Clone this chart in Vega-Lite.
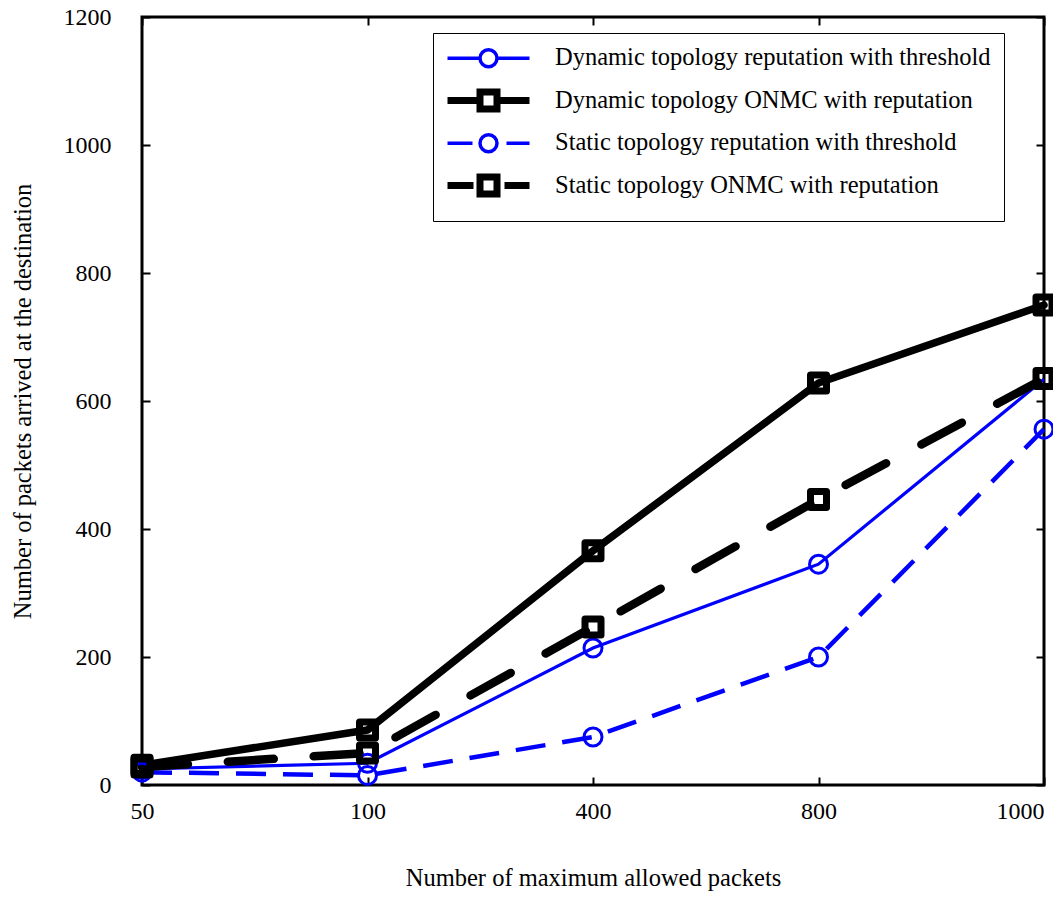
{
  "$schema": "https://vega.github.io/schema/vega-lite/v6.json",
  "width": 902,
  "height": 768,
  "autosize": {"type": "none"},
  "padding": {"left": 142, "top": 17, "right": 9, "bottom": 112},
  "background": "white",
  "config": {
    "view": {"stroke": "black", "strokeWidth": 3},
    "font": "Liberation Serif",
    "axis": {
      "labelFont": "Liberation Serif", "titleFont": "Liberation Serif",
      "labelFontSize": 24, "titleFontSize": 24.5,
      "labelColor": "black", "titleColor": "black", "titleFontWeight": "normal",
      "tickColor": "black", "tickWidth": 2, "tickSize": -8,
      "domain": false, "grid": false
    }
  },
  "data": {"values": [
    {"p": 50, "s": "Dynamic topology reputation with threshold", "v": 25},
    {"p": 100, "s": "Dynamic topology reputation with threshold", "v": 34},
    {"p": 400, "s": "Dynamic topology reputation with threshold", "v": 214},
    {"p": 800, "s": "Dynamic topology reputation with threshold", "v": 345},
    {"p": 1000, "s": "Dynamic topology reputation with threshold", "v": 634},
    {"p": 50, "s": "Dynamic topology ONMC with reputation", "v": 31},
    {"p": 100, "s": "Dynamic topology ONMC with reputation", "v": 86},
    {"p": 400, "s": "Dynamic topology ONMC with reputation", "v": 366},
    {"p": 800, "s": "Dynamic topology ONMC with reputation", "v": 628},
    {"p": 1000, "s": "Dynamic topology ONMC with reputation", "v": 750},
    {"p": 50, "s": "Static topology reputation with threshold", "v": 20},
    {"p": 100, "s": "Static topology reputation with threshold", "v": 15},
    {"p": 400, "s": "Static topology reputation with threshold", "v": 75},
    {"p": 800, "s": "Static topology reputation with threshold", "v": 200},
    {"p": 1000, "s": "Static topology reputation with threshold", "v": 556},
    {"p": 50, "s": "Static topology ONMC with reputation", "v": 28},
    {"p": 100, "s": "Static topology ONMC with reputation", "v": 50},
    {"p": 400, "s": "Static topology ONMC with reputation", "v": 247},
    {"p": 800, "s": "Static topology ONMC with reputation", "v": 446},
    {"p": 1000, "s": "Static topology ONMC with reputation", "v": 635}
  ]},
  "resolve": {"axis": {"x": "independent", "y": "independent"}},
  "layer": [
    {
      "transform": [{"filter": "datum.s == 'Static topology reputation with threshold'"}],
      "mark": {"type": "line", "color": "#0000ff", "strokeWidth": 4.5, "strokeDash": [30, 17]},
      "encoding": {
        "x": {"field": "p", "type": "ordinal", "scale": {"type": "point", "padding": 0},
              "axis": {"orient": "bottom", "title": "Number of maximum allowed packets", "labelAngle": 0, "labelPadding": 22, "titlePadding": 43,
                       "labelAlign": {"expr": "datum.value == 1000 ? 'right' : 'center'"}}},
        "y": {"field": "v", "type": "quantitative", "scale": {"domain": [0, 1200]},
              "axis": {"orient": "left", "title": "Number of packets arrived at the destination", "values": [0, 200, 400, 600, 800, 1000, 1200], "format": "d", "labelPadding": 39, "titlePadding": 28, "labelFlush": false}}
      }
    },
    {
      "transform": [{"filter": "datum.s == 'Dynamic topology reputation with threshold'"}],
      "mark": {"type": "line", "color": "#0000ff", "strokeWidth": 3.2},
      "encoding": {
        "x": {"field": "p", "type": "ordinal", "scale": {"type": "point", "padding": 0}, "axis": null},
        "y": {"field": "v", "type": "quantitative", "scale": {"domain": [0, 1200]}, "axis": null}
      }
    },
    {
      "transform": [{"filter": "datum.s == 'Static topology ONMC with reputation'"}],
      "mark": {"type": "line", "color": "#000000", "strokeWidth": 8.5, "strokeDash": [46, 40], "strokeCap": "round"},
      "encoding": {
        "x": {"field": "p", "type": "ordinal", "scale": {"type": "point", "padding": 0}, "axis": null},
        "y": {"field": "v", "type": "quantitative", "scale": {"domain": [0, 1200]}, "axis": null}
      }
    },
    {
      "transform": [{"filter": "datum.s == 'Dynamic topology ONMC with reputation'"}],
      "mark": {"type": "line", "color": "#000000", "strokeWidth": 7.5, "strokeCap": "round", "strokeJoin": "round"},
      "encoding": {
        "x": {"field": "p", "type": "ordinal", "scale": {"type": "point", "padding": 0}, "axis": null},
        "y": {"field": "v", "type": "quantitative", "scale": {"domain": [0, 1200]}, "axis": null}
      }
    },
    {
      "transform": [{"filter": "indexof(datum.s, 'threshold') >= 0"}],
      "mark": {"type": "point", "shape": "circle", "filled": false, "color": "#0000ff", "size": 324, "strokeWidth": 3, "opacity": 1},
      "encoding": {
        "x": {"field": "p", "type": "ordinal", "scale": {"type": "point", "padding": 0}, "axis": null},
        "y": {"field": "v", "type": "quantitative", "scale": {"domain": [0, 1200]}, "axis": null}
      }
    },
    {
      "transform": [{"filter": "indexof(datum.s, 'ONMC') >= 0"}],
      "mark": {"type": "point", "shape": "square", "filled": false, "color": "#000000", "size": 256, "strokeWidth": 7, "strokeJoin": "round", "opacity": 1},
      "encoding": {
        "x": {"field": "p", "type": "ordinal", "scale": {"type": "point", "padding": 0}, "axis": null},
        "y": {"field": "v", "type": "quantitative", "scale": {"domain": [0, 1200]}, "axis": null}
      }
    },
    {
      "mark": {"type": "point", "filled": false, "size": 400, "opacity": 0, "strokeCap": "round", "strokeJoin": "round"},
      "encoding": {
        "x": {"field": "p", "type": "ordinal", "scale": {"type": "point", "padding": 0},
              "axis": {"orient": "top", "labels": false, "title": null}},
        "y": {"field": "v", "type": "quantitative", "scale": {"domain": [0, 1200]},
              "axis": {"orient": "right", "labels": false, "title": null, "values": [0, 200, 400, 600, 800, 1000, 1200]}},
        "stroke": {
          "field": "s", "type": "nominal",
          "scale": {
            "domain": ["Dynamic topology reputation with threshold", "Dynamic topology ONMC with reputation", "Static topology reputation with threshold", "Static topology ONMC with reputation"],
            "range": ["#0000ff", "#000000", "#0000ff", "#000000"]
          }
        },
        "strokeWidth": {
          "field": "s", "type": "nominal",
          "scale": {
            "type": "ordinal",
            "domain": ["Dynamic topology reputation with threshold", "Dynamic topology ONMC with reputation", "Static topology reputation with threshold", "Static topology ONMC with reputation"],
            "range": [3.5, 7, 3.5, 7]
          }
        },
        "shape": {
          "field": "s", "type": "nominal",
          "scale": {
            "domain": ["Dynamic topology reputation with threshold", "Dynamic topology ONMC with reputation", "Static topology reputation with threshold", "Static topology ONMC with reputation"],
            "range": [
              "M-4.1,0L-0.85,0M0.85,0L4.1,0M0.85,0A0.85,0.85,0,1,1,-0.85,0A0.85,0.85,0,1,1,0.85,0",
              "M-4.1,0L-0.85,0M0.85,0L4.1,0M-0.85,-0.85L0.85,-0.85L0.85,0.85L-0.85,0.85Z",
              "M-4.1,0L-1.6,0M1.8,0L4.1,0M0.85,0A0.85,0.85,0,1,1,-0.85,0A0.85,0.85,0,1,1,0.85,0",
              "M-4.1,0L-1.5,0M1.6,0L4.1,0M-0.85,-0.85L0.85,-0.85L0.85,0.85L-0.85,0.85Z"
            ]
          },
          "legend": {
            "orient": "none", "legendX": 291, "legendY": 16,
            "title": null,
            "fillColor": "white", "strokeColor": "black",
            "padding": 13,
            "symbolSize": 400, "symbolOffset": 29,
            "labelOffset": 53,
            "labelFont": "Liberation Serif", "labelFontSize": 24.5, "labelColor": "black", "labelLimit": 0,
            "rowPadding": 4,
            "symbolOpacity": 1,
            "symbolFillColor": "transparent"
          }
        }
      }
    }
  ]
}
